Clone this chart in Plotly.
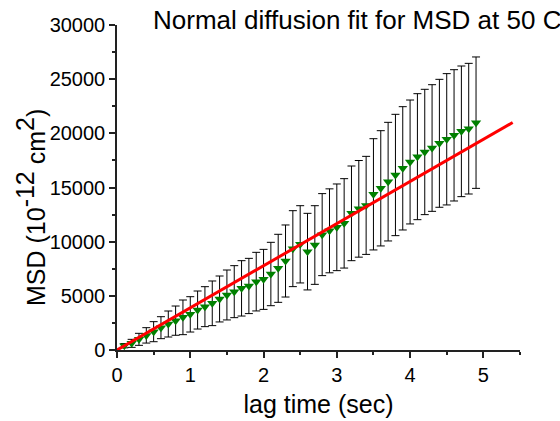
import plotly.graph_objects as go

lag_time = [round(0.1 * i, 1) for i in range(1, 50)]
msd = [400, 615, 985, 1350, 1690, 2060, 2400, 2710, 3015, 3290,
       3690, 4000, 4310, 4710, 5080, 5385, 5690, 5910, 6310, 6520,
       7015, 7540, 8215, 9355, 9755, 9080, 9690, 10650, 11000, 11325,
       11690, 12615, 13030, 13350, 14370, 14925, 15540, 16155, 16770, 17355,
       17845, 18280, 18645, 19080, 19450, 19815, 20185, 20430, 20985]
msd_err = [200, 370, 555, 710, 925, 1015, 1200, 1350, 1600, 1630,
           1755, 1845, 2060, 2120, 2305, 2400, 2555, 2550, 2705, 2770,
           2925, 3140, 3325, 3505, 3565, 3535, 3630, 3785, 3875, 4000,
           4125, 4370, 4460, 4525, 5135, 5320, 5475, 5600, 5690, 5720,
           5815, 5785, 5845, 5905, 6060, 6060, 6030, 6030, 6065]
fit_t = [0, 5.4]
fit_msd = [0, 21000]

FONT = "Liberation Sans, Arial, sans-serif"

fig = go.Figure()
fig.add_trace(go.Scatter(
    x=lag_time, y=msd, mode="markers",
    marker=dict(symbol="triangle-down", color="#008000", size=9, line=dict(width=0)),
    error_y=dict(type="data", array=msd_err, visible=True, color="black", thickness=1, width=4),
    showlegend=False,
))
fig.add_trace(go.Scatter(
    x=fit_t, y=fit_msd, mode="lines",
    line=dict(color="#FF0000", width=3),
    showlegend=False,
))

axis_common = dict(
    showgrid=False, zeroline=False, showline=True, linecolor="#222", linewidth=1.5,
    ticks="outside", ticklen=6, tickwidth=1.5, tickcolor="#222",
    tickfont=dict(family=FONT, size=20, color="black"),
    automargin=False,
)

sup = '<sup><span style="font-size:25px">{}</span></sup>'
ytitle = "MSD (10" + sup.format("-12") + " cm" + sup.format("2") + ")"

L, R, T, B = 117, 40, 25, 71
PW, PH = 560 - L - R, 421 - T - B

fig.update_layout(
    width=560, height=421,
    margin=dict(l=L, r=R, t=T, b=B),
    paper_bgcolor="white", plot_bgcolor="white",
    font=dict(family=FONT, color="black"),
    title=dict(text="Normal diffusion fit for MSD at 50 C", x=153/560, xanchor="left",
               xref="container", y=1 - 20/421, yanchor="middle",
               font=dict(family=FONT, size=26, color="black")),
    xaxis=dict(range=[0, 5.5], dtick=1, tick0=0,
               minor=dict(dtick=0.5, ticks="outside", ticklen=3, tickwidth=1.5, tickcolor="#222"),
               title=dict(text="lag time (sec)", font=dict(family=FONT, size=25), standoff=11),
               **axis_common),
    yaxis=dict(range=[0, 30000], dtick=5000, tick0=0, tickformat="d",
               minor=dict(dtick=2500, ticks="outside", ticklen=3, tickwidth=1.5, tickcolor="#222"),
               **axis_common),
    annotations=[dict(
        text=ytitle, textangle=-90, showarrow=False,
        xref="paper", yref="paper",
        x=(31 - L) / PW, y=(T + PH - 208) / PH,
        xanchor="center", yanchor="middle",
        font=dict(family=FONT, size=25, color="black"),
    )],
)

fig.write_html("out.html")
